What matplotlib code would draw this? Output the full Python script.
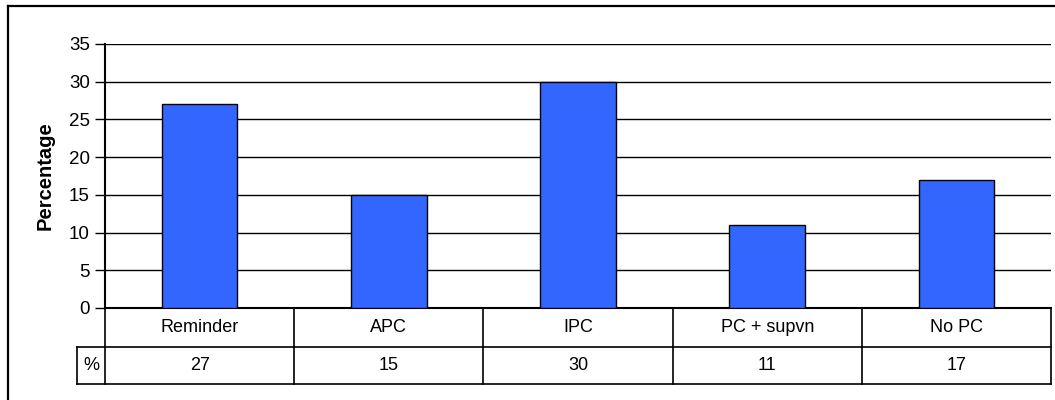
import matplotlib
matplotlib.use("Agg")
import matplotlib.pyplot as plt
from matplotlib.lines import Line2D
import matplotlib.transforms as mtransforms

categories = ["Reminder", "APC", "IPC", "PC + supvn", "No PC"]
values = [27, 15, 30, 11, 17]
row_label = "%"
yticks = [0, 5, 10, 15, 20, 25, 30, 35]

plt.rcParams['font.family'] = ['Liberation Sans', 'DejaVu Sans']

W, H = 1055, 400
fig = plt.figure(figsize=(W / 100, H / 100), dpi=100)

def fx(px):
    return px / W

def fy(py):
    return 1 - py / H

ax_l, ax_r, ax_t, ax_b = 105, 1051, 44, 308
ax = fig.add_axes([fx(ax_l), fy(ax_b), fx(ax_r) - fx(ax_l), fy(ax_t) - fy(ax_b)])

x = list(range(len(categories)))
ax.bar(x, values, width=0.4, color="#3366FF", edgecolor="black", linewidth=1.0, zorder=3)
ax.set_xlim(-0.5, len(categories) - 0.5)
ax.set_ylim(0, 35)
ax.set_yticks(yticks)
ax.set_yticklabels([str(t) for t in yticks], fontsize=13.5)
ax.yaxis.grid(True, color="black", linewidth=1.0, zorder=0)
ax.set_axisbelow(True)
ax.tick_params(axis='y', length=7, width=1.0, direction='out', pad=4)
ax.set_xticks([])
for s in ["top", "right"]:
    ax.spines[s].set_visible(False)
ax.spines["left"].set_linewidth(1.5)
ax.spines["bottom"].set_linewidth(1.5)

# y-axis title placed at a fixed figure position
fig.text(fx(45), fy((ax_t + ax_b) / 2), "Percentage", rotation=90, ha="center", va="center",
         fontsize=14.5, fontweight="bold")

# Data table drawn below the axes
axh = ax_b - ax_t
trans = mtransforms.blended_transform_factory(ax.transData, ax.transAxes)
r1 = -(347 - ax_b) / axh
r2 = -(384 - ax_b) / axh
n = len(categories)
lw = 1.2
for i in range(n + 1):
    xb = i - 0.5
    ax.add_line(Line2D([xb, xb], [0, r2], transform=trans, color="black", lw=lw, clip_on=False))
hdr_left = -0.5 - (ax_l - 77) / ((ax_r - ax_l) / n)
ax.add_line(Line2D([hdr_left, n - 0.5], [r1, r1], transform=trans, color="black", lw=lw, clip_on=False))
ax.add_line(Line2D([hdr_left, n - 0.5], [r2, r2], transform=trans, color="black", lw=lw, clip_on=False))
ax.add_line(Line2D([hdr_left, hdr_left], [r1, r2], transform=trans, color="black", lw=lw, clip_on=False))
for i, (c, v) in enumerate(zip(categories, values)):
    ax.text(i, r1 / 2, c, transform=trans, ha="center", va="center", fontsize=13)
    ax.text(i, (r1 + r2) / 2, str(v), transform=trans, ha="center", va="center", fontsize=13)
ax.text((hdr_left - 0.5) / 2, (r1 + r2) / 2, row_label, transform=trans, ha="center", va="center", fontsize=13)

# outer chart border (cropped at right/bottom)
fig.add_artist(Line2D([fx(8), 1.0], [fy(6), fy(6)], transform=fig.transFigure, color="black", lw=1.6))
fig.add_artist(Line2D([fx(8), fx(8)], [fy(6), 0.0], transform=fig.transFigure, color="black", lw=1.6))

fig.savefig("out.png", dpi=100)
